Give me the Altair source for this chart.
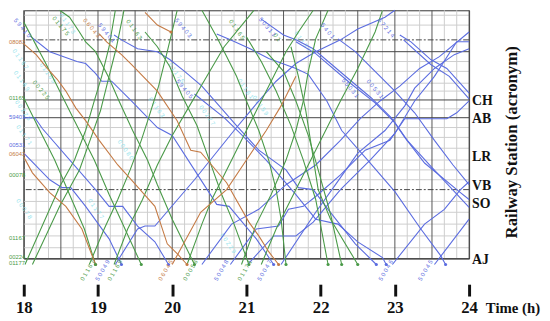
import altair as alt
import pandas as pd

# ---- train paths: (minutes after 18:00, line position; AJ = 0) ----
B1 = [(5,226),(21,210),(43,200),(50,198),(58,188),(63,180),(71,180),(87,160),(108,133),(120,125),(156,55),(166,53),(188,20),(202,-6)]
B2 = [(0,143),(9,143),(15,132),(58,70),(69,53),(80,53),(92,33),(106,17),(117,-6)]
B3 = [(0,107),(21,80),(31,72),(38,72),(50,53),(69,20),(79,-6)]
B4 = [(73,227),(79,222),(92,213),(108,210),(118,202),(130,190),(144,175),(172,135),(190,110),(212,90),(222,72),(234,70),(246,50),(268,15),(285,-6)]
B5 = [(156,228),(167,222),(183,213),(198,203),(220,193),(230,187),(245,160),(257,130),(278,100),(300,68),(321,30),(337,3),(341,-6)]
B6 = [(192,243),(210,227),(220,222),(234,213),(262,183),(281,163),(297,143),(308,123),(324,97),(353,67),(360,60)]
B7 = [(220,220),(236,208),(264,178),(284,158),(300,138),(310,120),(328,95),(360,52)]
B8 = [(304,227),(313,220),(329,202),(342,193),(360,168)]
B9 = [(307,222),(329,197),(344,185),(360,162)]
B10 = [(138,167),(162,143),(175,127),(196,100),(220,65),(236,40),(254,35),(270,17),(290,1),(293,-6)]
B11 = [(254,223),(268,210),(284,190),(300,170),(316,148),(332,120),(347,95),(360,75)]
BA1 = [(298,-6),(324,35),(340,50),(353,70),(360,78)]
BA2 = [(332,-6),(360,40)]
BA3 = [(208,-6),(236,47),(252,75),(270,107),(292,130),(308,155),(316,173),(332,193),(348,207),(360,213)]
BA4 = [(167,-6),(188,30),(206,33),(214,50),(226,53),(236,63),(256,85),(276,110),(296,120),(308,142),(342,142),(350,148),(360,160)]
BA5 = [(181,-6),(202,23),(220,23),(234,37),(256,70),(280,100),(300,127),(316,160),(332,185),(350,220),(360,220)]
BA6 = [(144,-6),(168,35),(190,50),(212,75),(236,95),(256,120),(272,142),(288,160),(304,175),(320,193),(336,205),(360,230)]
BA7 = [(74,-6),(92,30),(98,33),(106,33),(138,80),(170,130),(188,157),(204,180),(220,198),(236,210),(256,222),(270,233),(292,245),(300,252)]

GA1 = [(1,-6),(29,73),(41,100),(50,130),(57,160),(63,185),(69,215),(74,252)]
GA2 = [(7,-6),(29,53),(45,90),(55,125),(62,150),(68,180),(75,215),(81,252)]
GA3 = [(53,-6),(65,30),(76,60),(86,90),(95,120),(101,143),(109,175),(116,210),(124,252)]
GA4 = [(73,-6),(84,30),(96,60),(108,95),(120,125),(134,155),(148,185),(162,215),(175,235),(186,252)]
GA5 = [(132,-6),(144,35),(152,60),(164,90),(176,120),(188,150),(200,180),(212,210),(222,230),(234,252)]
GA6 = [(176,-6),(188,35),(200,65),(212,100),(220,130),(226,160),(230,190),(236,223),(246,252)]
GA7 = [(192,-6),(204,30),(220,70),(232,100),(244,130),(256,160),(270,193),(284,230),(290,252)]
GD1 = [(29,252),(37,245),(45,230),(50,220),(58,210),(69,183),(77,160),(88,130),(100,100),(108,75),(120,40),(138,-6)]
GD2 = [(0,163),(13,130),(25,100),(37,65),(49,30),(58,-6)]
GD4 = [(0,240),(17,200),(29,170),(41,140),(57,100),(69,65),(80,35),(95,-6)]
GD5 = [(98,230),(108,215),(118,195),(128,165),(140,135),(150,100),(160,65),(170,35),(182,-6)]
GD6 = [(180,225),(192,200),(204,170),(216,135),(226,100),(236,60),(246,-6)]
GD7 = [(144,252),(156,225),(164,205),(172,185),(180,160),(190,130),(198,100),(204,70),(208,40),(212,-6)]
GD8 = [(196,210),(210,190),(220,160),(230,125),(238,90),(248,45),(257,-6)]
GD9 = [(216,215),(222,185),(228,150),(233,110),(238,70),(248,40),(270,-6)]

O1 = [(0,218),(10,207),(19,193),(27,182),(34,170),(42,153),(50,140),(61,120),(76,95),(87,80),(106,53),(116,15),(124,5),(132,-6)]
O2 = [(0,103),(7,87),(21,67),(34,53),(47,30),(58,-6)]
O3 = [(61,228),(67,220),(79,207),(87,197),(108,170),(124,140),(135,110),(143,108),(164,77),(182,37),(190,23),(198,7),(206,-6)]
O4 = [(98,250),(108,237),(119,230)]
O5 = [(120,-6),(143,47),(164,70),(180,100),(196,130),(208,155),(220,185)]

trains = {
    "B": {"B1": B1, "B2": B2, "B3": B3, "B4": B4, "B5": B5, "B6": B6, "B7": B7, "B8": B8, "B9": B9, "B10": B10,
          "B11": B11, "BA1": BA1, "BA2": BA2, "BA3": BA3, "BA4": BA4, "BA5": BA5, "BA6": BA6, "BA7": BA7},
    "G": {"GA1": GA1, "GA2": GA2, "GA3": GA3, "GA4": GA4, "GA5": GA5, "GA6": GA6, "GA7": GA7,
          "GD1": GD1, "GD2": GD2, "GD4": GD4, "GD5": GD5, "GD6": GD6, "GD7": GD7, "GD8": GD8, "GD9": GD9},
    "O": {"O1": O1, "O2": O2, "O3": O3, "O4": O4, "O5": O5},
}
# trains whose last point is drawn with an arrival dot
arrivals = ["B1", "B2", "B3", "B4", "B5", "B10", "GD1", "GD2", "GD4", "GD5", "GD6", "GD7", "GD8", "GD9",
            "O1", "O2", "O3", "O4"]

# train number labels: text, minute, position, angle, category
train_labels = [
    ("5 9 4 1 5", -7, 243, 50, "B"), ("0 1 1 7 5", 24, 245, 50, "G"), ("0 6 0 4 3", 49, 243, 50, "O"),
    ("5 9 4 0 1", 61, 238, 50, "B"), ("0 0 2 2 5", 8, 180, 50, "G"), ("5 9 4 0 3", 123, 243, 50, "B"),
    ("0 1 1 6 3", 84, 242, 55, "G"), ("0 1 1 6 5", 167, 242, 55, "G"), ("0 1", 203, 228, 55, "G"),
    ("5 0 3 1 1", 191, 244, 50, "B"), ("6 7 2 1 4", 287, 243, 50, "B"), ("5 4 0 1", 241, 238, 50, "B"),
    ("5 5 0 3 1", 258, 182, 50, "B"), ("0 0 5 3 1", 278, 181, 50, "B"), ("5 9 4 0 5", 124, 181, 50, "B"),
    ("0 1 1 6 7", 47, -22, 300, "G"), ("5 0 0 4 9", 59, -22, 300, "B"), ("0 1 1 6 9", 69, -22, 300, "G"),
    ("0 6 0 4 5", 110, -22, 300, "O"), ("0 0 0 5 6", 130, -22, 300, "G"), ("5 0 0 4 8", 155, -22, 300, "B"),
    ("0 1 1 7 1", 174, -22, 300, "G"), ("5 0 0 4 7", 190, -22, 300, "B"), ("5 0 0 4 6", 288, -22, 300, "B"),
    ("5 0 0 4 5", 320, -22, 300, "B"),
]

# faint cyan train numbers scattered over the diagram
cyan_labels = [
    ("0 1 1 6 7", -8, 212), ("0 1 1 6 9", -7, 190), ("0 0 2 2 5", -6, 160), ("0 1 1 7 1", -5, 135),
    ("0 0 0 7 8", -5, 60), ("0 1 1 6 5", 14, 198), ("0 1 1 7 3", 30, 248), ("0 1 1 6 3", 102, 163),
    ("0 1 1 7 5", 118, 198), ("0 0 2 2 7", 143, 155), ("0 1 1 6 1", 174, 182), ("0 1 1 5 9", 186, 165),
    ("0 0 0 8 0", 77, 120), ("0 1 1 7 7", 53, 60), ("0 0 2 2 9", 160, 25), ("0 1 1 5 7", 220, 230),
]

# left-hand train numbers at their origin
left_labels = [("08083", 220, "O"), ("01165", 163, "G"), ("59401", 144, "B"), ("00531", 115, "B"),
               ("06043", 106, "O"), ("00078", 85, "G"), ("01167", 21, "G"), ("00224", 2, "G"), ("01177", -5, "G")]

stations = ["CH", "AB", "LR", "VB", "SO", "AJ"]
station_pos = [160, 142, 103, 74, 55, -2]

hours = [18, 19, 20, 21, 22, 23, 24]
h_light = [247, 237, 200, 190, 178, 170, 152, 133, 123, 112, 100, 90, 80, 58, 47, 35, 23, 11]
h_dark = [210, 161, 143, 0]
h_dash = [222, 70]

COLORS = {"G": "#4a9a48", "O": "#c47a44", "B": "#5b6ce0", "C": "#8fe3ec"}
W, H = 452, 252

rows = []
for cat, group in trains.items():
    for name, pts in group.items():
        for i, (m, p) in enumerate(pts):
            rows.append({"train": name, "cat": cat, "m": m, "p": p, "i": i})
df = pd.DataFrame(rows)
ends = df[df["train"].isin(arrivals)].sort_values("i").groupby("train").tail(1)

lab_df = pd.DataFrame(train_labels, columns=["t", "m", "p", "a", "cat"])
cyan_df = pd.DataFrame(cyan_labels, columns=["t", "m", "p"])
left_df = pd.DataFrame(left_labels, columns=["t", "p", "cat"])
st_df = pd.DataFrame({"s": stations, "p": station_pos})

xscale = alt.Scale(domain=[0, 360], nice=False, zero=False)
yscale = alt.Scale(domain=[0, 252], nice=False, zero=False)
xaxis = alt.Axis(values=[(h - 18) * 60 for h in hours], labelExpr="datum.value/60 + 18",
                 title=None, grid=False, domain=False, offset=26, tickSize=12, tickWidth=3,
                 tickColor="#111", labelFont="Liberation Serif", labelFontWeight="bold",
                 labelFontSize=17, labelColor="#111", labelPadding=4, labelFlush=False)
X = alt.X("m:Q", scale=xscale, axis=xaxis)
Y = alt.Y("p:Q", scale=yscale, axis=None)
color = alt.Color("cat:N", scale=alt.Scale(domain=list(COLORS), range=list(COLORS.values())), legend=None)

vminor = pd.DataFrame({"m": [m for m in range(0, 361, 10) if m % 30]})
vmajor = pd.DataFrame({"m": list(range(0, 361, 30))})

layers = [
    alt.Chart(vminor).mark_rule(color="#cdcdcd", strokeWidth=1).encode(x=X),
    alt.Chart(pd.DataFrame({"p": h_light})).mark_rule(color="#cdcdcd", strokeWidth=1).encode(y=Y),
    alt.Chart(vmajor).mark_rule(color="#555", strokeWidth=1).encode(x=X),
    alt.Chart(pd.DataFrame({"p": h_dark})).mark_rule(color="#444", strokeWidth=1).encode(y=Y),
    alt.Chart(pd.DataFrame({"p": h_dash})).mark_rule(color="#444", strokeWidth=1, strokeDash=[6, 2, 2, 2]).encode(y=Y),
    alt.Chart(cyan_df).mark_text(fontSize=6, align="left", baseline="middle", angle=55,
                                 color=COLORS["C"]).encode(x=X, y=Y, text="t:N"),
    alt.Chart(df).mark_line(strokeWidth=1.1).encode(x=X, y=Y, color=color, detail="train:N", order="i:Q"),
    alt.Chart(ends).mark_point(filled=True, size=10, opacity=1).encode(x=X, y=Y, color=color),
    alt.Chart(lab_df).mark_text(fontSize=6, align="left", baseline="middle").encode(
        x=X, y=Y, text="t:N", angle=alt.Angle("a:Q", scale=None), color=color),
    alt.Chart(left_df).mark_text(fontSize=6, align="left", baseline="middle", font="Liberation Sans").encode(
        x=alt.value(-15), y=Y, text="t:N", color=color),
    alt.Chart(st_df).mark_text(fontSize=14, align="left", baseline="middle", font="Liberation Serif",
                               fontWeight="bold", color="#111").encode(x=alt.value(W + 3), y=Y, text="s:N"),
    alt.Chart(pd.DataFrame({"t": ["Railway Station (acronym)"]})).mark_text(
        fontSize=17, angle=270, align="center", baseline="middle", font="Liberation Serif",
        fontWeight="bold", color="#111").encode(x=alt.value(W + 44), y=alt.value(134), text="t:N"),
    alt.Chart(pd.DataFrame({"t": ["Time (h)"]})).mark_text(
        fontSize=15, align="left", baseline="middle", font="Liberation Serif",
        fontWeight="bold", color="#111").encode(x=alt.value(W + 17), y=alt.value(302), text="t:N"),
]

chart = alt.layer(*layers).properties(
    width=W, height=H,
    autosize=alt.AutoSizeParams(type="none"),
    padding={"left": 16, "top": 0, "right": 74, "bottom": 60},
).configure_view(stroke="#333", strokeWidth=1)

chart.save("out.html", embed_options={"renderer": "svg", "actions": False})
